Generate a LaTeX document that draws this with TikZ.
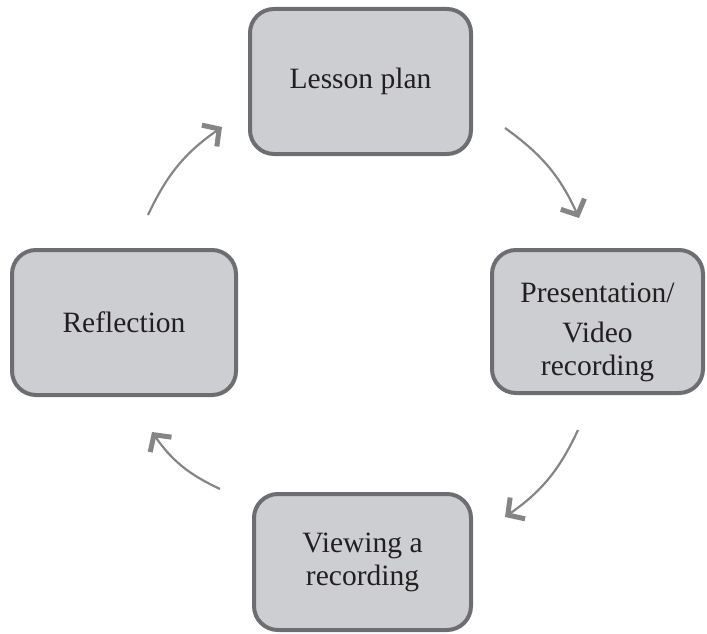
\documentclass[tikz,border=0pt]{standalone}
\usepackage{fontspec}
\setmainfont{Liberation Serif}
\usetikzlibrary{arrows.meta}

\definecolor{boxfill}{HTML}{CDCED2}
\definecolor{boxedge}{HTML}{6D6E71}
\definecolor{cycline}{HTML}{858585}
\definecolor{txt}{HTML}{231F20}

\tikzset{
  stage/.style={draw=boxedge, fill=boxfill, line width=4pt, rounded corners=24pt,
    text=txt, align=center, font=\fontsize{29.5}{33}\selectfont, inner sep=0pt},
  cyc/.style={draw=cycline, line width=2.2pt,
    -{Straight Barb[length=12pt,width=26pt,line width=5pt]}}
}

\begin{document}
\begin{tikzpicture}[x=1pt,y=-1pt]
    \useasboundingbox (0,0) rectangle (707,634);

    % The four stages
    \node[stage, minimum width=221pt, minimum height=145pt] (plan) at (360.5,81.5) {Lesson plan};
    \node[stage, minimum width=211pt, minimum height=143pt] (present) at (597.5,321.5) {\rule{0pt}{41pt}Presentation/\\[7pt]Video\\recording};
    \node[stage, minimum width=217pt, minimum height=136pt] (viewing) at (362.5,562) {Viewing a\\recording};
    \node[stage, minimum width=224pt, minimum height=145pt] (reflect) at (124,322.5) {Reflection};

    % Free ends of the cycle arrows
    \coordinate (a1) at (505,128);
    \coordinate (b1) at (579,218);
    \coordinate (a2) at (578,430);
    \coordinate (b2) at (505,517);
    \coordinate (a3) at (220,489);
    \coordinate (b3) at (152,432);
    \coordinate (a4) at (148,215);
    \coordinate (b4) at (222,127);

    % Cycle arrows
    \draw[cyc] (a1) to[bend left=15] (b1);
    \draw[cyc] (a2) to[bend left=15] (b2);
    \draw[cyc] (a3) to[bend left=15] (b3);
    \draw[cyc] (a4) to[bend left=15] (b4);
\end{tikzpicture}
\end{document}
